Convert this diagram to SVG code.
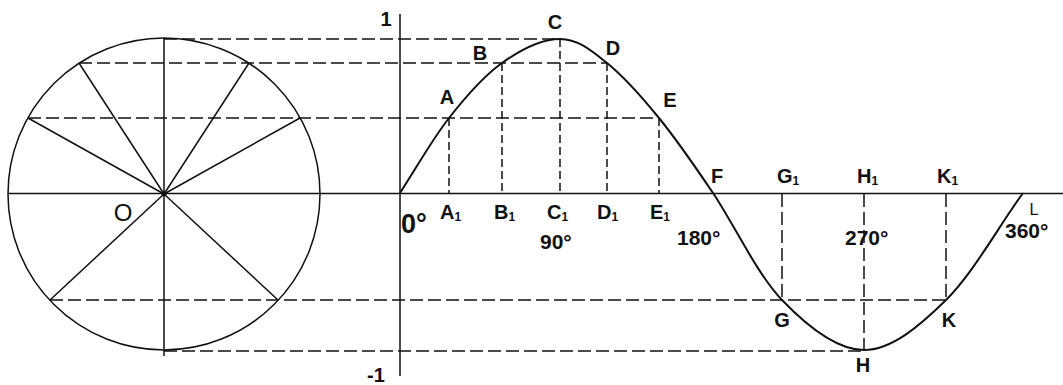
<svg xmlns="http://www.w3.org/2000/svg" width="1063" height="385" viewBox="0 0 1063 385">
<style>
.ln{stroke:#111;stroke-width:1.5;fill:none}
.dh{stroke:#111;stroke-width:1.5;fill:none;stroke-dasharray:13 5}
.dv{stroke:#111;stroke-width:1.5;fill:none;stroke-dasharray:8 4}
.cv{stroke:#111;stroke-width:2;fill:none}
.t{font-family:"Liberation Sans",Arial,sans-serif;font-weight:bold;font-size:20px;fill:#111}
.s{font-size:12px}
.d{font-family:"Liberation Sans",Arial,sans-serif;font-weight:bold;font-size:21px;fill:#111}
</style>
<rect width="1063" height="385" fill="#fff"/>
<g id="circle">
<circle cx="164" cy="194" r="156" class="ln"/>
<line x1="164" y1="38" x2="164" y2="356" class="ln"/>
<line x1="164" y1="194" x2="79" y2="63" class="ln"/>
<line x1="164" y1="194" x2="249" y2="63" class="ln"/>
<line x1="164" y1="194" x2="28" y2="118" class="ln"/>
<line x1="164" y1="194" x2="300" y2="118" class="ln"/>
<line x1="164" y1="194" x2="50" y2="300" class="ln"/>
<line x1="164" y1="194" x2="278" y2="300" class="ln"/>
<circle cx="164" cy="194" r="2.5" fill="#111"/>
<text x="123" y="221" font-family="Liberation Sans,Arial,sans-serif" font-size="24" fill="#111" text-anchor="middle">O</text>
</g>
<g id="axes">
<line x1="8" y1="193.5" x2="1063" y2="193.5" class="ln"/>
<line x1="400" y1="14" x2="400" y2="376" class="ln"/>
<text x="386" y="26" class="t" text-anchor="middle">1</text>
<text x="376" y="382" class="t" text-anchor="middle">-1</text>
</g>
<g id="connectors">
<line x1="164" y1="39" x2="560" y2="39" class="dh"/>
<line x1="79" y1="63" x2="607" y2="63" class="dh"/>
<line x1="28" y1="118" x2="659" y2="118" class="dh"/>
<line x1="50" y1="300" x2="946" y2="300" class="dh"/>
<line x1="164" y1="351" x2="864" y2="351" class="dh"/>
<line x1="449" y1="118" x2="449" y2="193" class="dv"/>
<line x1="502" y1="63" x2="502" y2="193" class="dv"/>
<line x1="560" y1="39" x2="560" y2="193" class="dv"/>
<line x1="607" y1="63" x2="607" y2="193" class="dv"/>
<line x1="659" y1="118" x2="659" y2="193" class="dv"/>
<line x1="782" y1="194" x2="782" y2="300" class="dh"/>
<line x1="864" y1="194" x2="864" y2="351" class="dh"/>
<line x1="946" y1="194" x2="946" y2="300" class="dh"/>
</g>
<g id="curve">
<path class="cv" d="M400,193 C416.3,168 432,139.7 449,118 C466,96.3 483.5,76.2 502,63 C520.5,49.8 542.5,39 560,39 C577.5,39 590.5,49.8 607,63 C623.5,76.2 641.3,96.3 659,118 C676.7,139.7 692.5,162.7 713,193 C733.5,223.3 756.8,273.8 782,300 C807.2,326.2 836.7,350 864,350 C891.3,350 919.5,326.2 946,300 C972.5,273.8 997.3,228.7 1023,193"/>
</g>
<g id="labels">
<text x="447" y="104" class="t" text-anchor="middle">A</text>
<text x="480" y="60" class="t" text-anchor="middle">B</text>
<text x="555" y="29" class="t" text-anchor="middle">C</text>
<text x="613" y="55" class="t" text-anchor="middle">D</text>
<text x="670" y="107" class="t" text-anchor="middle">E</text>
<text x="717" y="183" class="t" text-anchor="middle">F</text>
<text x="782" y="327" class="t" text-anchor="middle">G</text>
<text x="863" y="372" class="t" text-anchor="middle">H</text>
<text x="949" y="327" class="t" text-anchor="middle">K</text>
<text x="1034" y="215" font-family="Liberation Sans,Arial,sans-serif" font-size="16" fill="#111" text-anchor="middle">L</text>
<text x="440" y="219" class="t">A<tspan class="s" dy="2">1</tspan></text>
<text x="494" y="219" class="t">B<tspan class="s" dy="2">1</tspan></text>
<text x="547" y="219" class="t">C<tspan class="s" dy="2">1</tspan></text>
<text x="597" y="219" class="t">D<tspan class="s" dy="2">1</tspan></text>
<text x="650" y="219" class="t">E<tspan class="s" dy="2">1</tspan></text>
<text x="777" y="183" class="t">G<tspan class="s" dy="2">1</tspan></text>
<text x="857" y="183" class="t">H<tspan class="s" dy="2">1</tspan></text>
<text x="937" y="183" class="t">K<tspan class="s" dy="2">1</tspan></text>
<text x="401" y="233" class="d" style="font-size:27px">0°</text>
<text x="540" y="249" class="d">90°</text>
<text x="677" y="245" class="d">180°</text>
<text x="845" y="245" class="d">270°</text>
<text x="1005" y="238" class="d">360°</text>
</g>
</svg>
